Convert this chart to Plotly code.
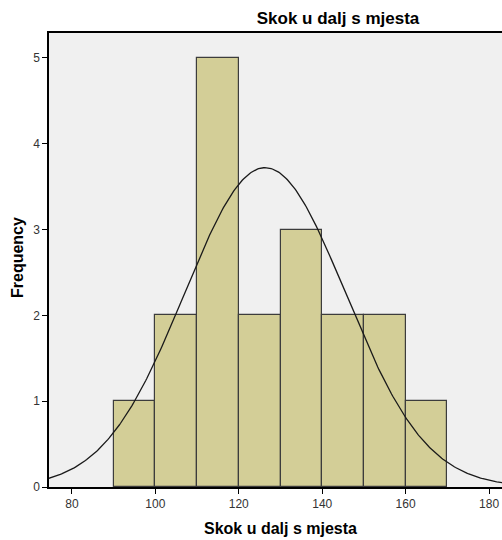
import numpy as np
import plotly.graph_objects as go

bin_left = [90, 100, 110, 120, 130, 140, 150, 160]
freq = [1, 2, 5, 2, 3, 2, 2, 1]
bin_width = 10
n_total = sum(freq)
mean_val = 126.3
sd_val = 19.3

x_ticks = [80, 100, 120, 140, 160, 180]
y_ticks = [0, 1, 2, 3, 4, 5]

W, H = 502, 540

fig = go.Figure()
fig.add_trace(go.Bar(
    x=[b + bin_width / 2 for b in bin_left], y=freq, width=bin_width,
    marker=dict(color="#D3CE97", line=dict(color="#3C3C3C", width=1.2)),
    showlegend=False, hoverinfo="skip"))

xs = np.linspace(70, 190, 400)
ys = n_total * bin_width / (sd_val * np.sqrt(2 * np.pi)) * np.exp(-0.5 * ((xs - mean_val) / sd_val) ** 2)
fig.add_trace(go.Scatter(x=xs, y=ys, mode="lines",
                         line=dict(color="#1a1a1a", width=1.3), showlegend=False, hoverinfo="skip"))

fig.update_layout(
    width=W, height=H,
    margin=dict(l=49, r=0, t=33, b=53),
    paper_bgcolor="white", plot_bgcolor="#F0F0F0",
    font=dict(family="Liberation Sans, Arial, sans-serif", color="black"),
    bargap=0,
    title=dict(text="<b>Skok u dalj s mjesta</b>", x=338/W, xanchor="center",
               y=1 - 18/H, yanchor="middle", font=dict(size=17)),
    annotations=[
        dict(text="<b>Skok u dalj s mjesta</b>", xref="paper", yref="paper",
             x=(280 - 49) / (W - 49), y=-(528 - 487) / (487 - 33),
             xanchor="center", yanchor="middle", showarrow=False, font=dict(size=16)),
        dict(text="<b>Frequency</b>", xref="paper", yref="paper", textangle=-90,
             x=-(49 - 17) / (W - 49), y=(487 - 258) / (487 - 33),
             xanchor="center", yanchor="middle", showarrow=False, font=dict(size=16)),
    ],
)
fig.update_xaxes(range=[74.5, 183.1], tickvals=x_ticks, ticks="outside", ticklen=5,
                 tickcolor="black", showgrid=False, zeroline=False,
                 showline=True, linecolor="black", linewidth=1.5, mirror=True,
                 tickfont=dict(size=12, color="#333333"))
fig.update_yaxes(range=[0, 5.29], tickvals=y_ticks, ticks="outside", ticklen=5,
                 tickcolor="black", showgrid=False, zeroline=False,
                 showline=True, linecolor="black", linewidth=1.5,
                 tickfont=dict(size=12, color="#333333"))

fig.write_html("out.html")
